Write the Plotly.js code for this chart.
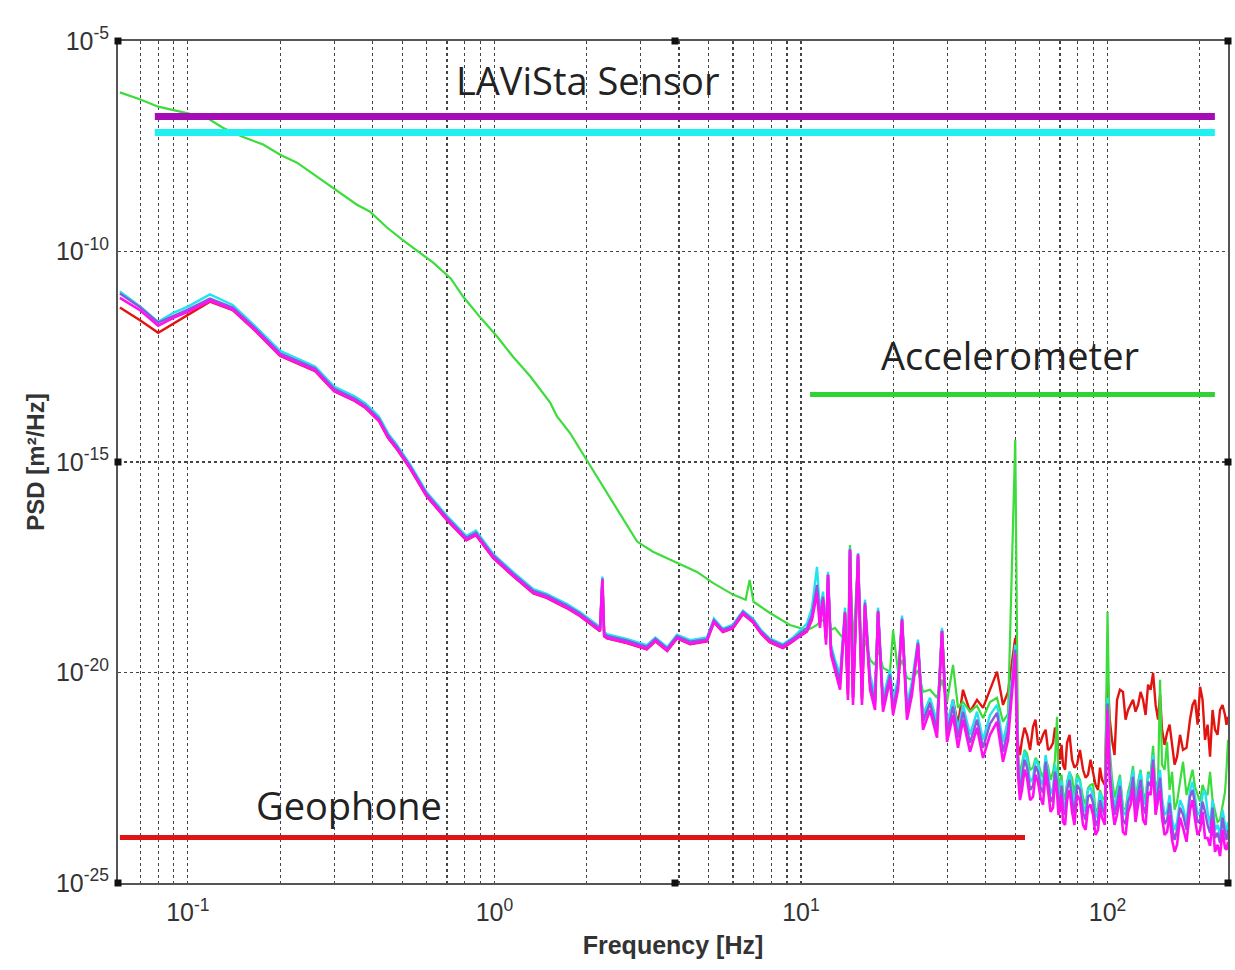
<!DOCTYPE html>
<html>
<head>
<meta charset="utf-8">
<script src="https://cdn.plot.ly/plotly-3.0.1.min.js"></script>
<style>html,body{margin:0;padding:0;background:#fff;}#chart{width:1235px;height:970px;}</style>
</head>
<body>
<div id="chart"></div>
<script>
// ---- Data (frequencies in Hz, PSD stored as log10 of m^2/Hz) ----
const lowFreq = [0.06,0.07,0.08,0.09,0.1,0.118,0.14,0.165,0.2,0.23,0.26,0.3,0.35,0.38,0.42,0.45,0.48,0.53,0.6,0.7,0.81,0.87,0.99,1.15,1.34,1.48,1.72,1.9,2.21,2.25,2.28,2.33,2.7,3.14,3.35,3.66,3.94,4.35,4.93,5.2,5.56,6.0,6.47,6.97,7.4,7.9,8.73,9.42];
const midFreq = [10.46,10.86,11.28,11.53,11.80,12.07,12.25,12.53,12.91,13.41,13.92,14.23,14.45,14.78,15.35,15.81,16.17,16.80,17.44,17.84,18.52,19.52,19.97,20.73,21.36,22.17,23.02,24.08,25.00,26.36,27.78,28.84,29.95,31.33,32.53,33.77,35.60,37.52,39.25,41.36,43.60,45.61,47.36,50];
const topFreq = [51.05,51.8,52.6,53.6,54.63,55.9,57.14,58.2,59.33,60.5,61.6,62.8,63.96,65.2,66.41,67.4,68.44,69.2,69.98,70.8,71.58,72.7,73.78,75.2,76.61,78.0,79.53,81.3,83.2,84.8,86.38,88.0,89.69,91.4,93.11,94.5,95.96,98.0,100,101.7,103.4,105.4,107.4,109.8,112.3,114.5,116.7,118.9,121.1,123.4,125.8,128.2,130.6,133.1,135.6,138.2,140.8,143.5,146.2,148.4,150.6,153.5,156.4,159.4,162.4,165.5,168.6,172.4,176.3,181.0,185.8,189.4,193.0,196.7,200.4,204.2,208.0,212.0,216.0,220.1,224.2,228.5,232.8,237.2,241.7,244.4,247.2];

const magentaLow = [-11.10,-11.40,-11.76,-11.57,-11.43,-11.17,-11.38,-11.86,-12.47,-12.66,-12.83,-13.31,-13.54,-13.71,-14.02,-14.42,-14.68,-15.14,-15.80,-16.37,-16.85,-16.73,-17.27,-17.70,-18.11,-18.22,-18.46,-18.65,-19.01,-17.80,-19.13,-19.18,-19.29,-19.44,-19.25,-19.48,-19.18,-19.32,-19.25,-18.80,-19.03,-18.94,-18.60,-18.80,-19.06,-19.27,-19.41,-19.25];
const purpleLow = [-11.00,-11.33,-11.69,-11.52,-11.38,-11.12,-11.33,-11.81,-12.42,-12.61,-12.78,-13.26,-13.49,-13.66,-13.97,-14.37,-14.63,-15.09,-15.75,-16.32,-16.80,-16.68,-17.22,-17.65,-18.06,-18.17,-18.41,-18.60,-18.96,-17.76,-19.08,-19.13,-19.24,-19.39,-19.20,-19.43,-19.14,-19.27,-19.21,-18.76,-18.99,-18.90,-18.56,-18.76,-19.02,-19.22,-19.36,-19.20];
const cyanLow = [-10.95,-11.31,-11.67,-11.45,-11.31,-11.02,-11.27,-11.76,-12.36,-12.56,-12.73,-13.21,-13.44,-13.61,-13.92,-14.32,-14.59,-15.05,-15.71,-16.28,-16.76,-16.63,-17.18,-17.61,-18.02,-18.13,-18.37,-18.56,-18.92,-17.72,-19.04,-19.09,-19.20,-19.35,-19.17,-19.40,-19.10,-19.23,-19.17,-18.72,-18.96,-18.86,-18.53,-18.72,-18.99,-19.19,-19.33,-19.17];
const redLow = [-11.33,-11.64,-11.93,-11.71,-11.50,-11.19,-11.39,-11.87,-12.48,-12.67,-12.84,-13.32,-13.55,-13.72,-14.03,-14.43,-14.69,-15.15,-15.81,-16.38,-16.86,-16.74,-17.28,-17.71,-18.12,-18.23,-18.47,-18.66,-19.02,-17.85,-19.14,-19.19,-19.30,-19.45,-19.26,-19.49,-19.19,-19.33,-19.26,-18.81,-19.04,-18.95,-18.61,-18.81,-19.07,-19.28,-19.42,-19.26];

const magentaMid = [-19.03,-18.75,-18.11,-18.94,-18.27,-19.34,-17.68,-19.58,-19.94,-20.41,-18.58,-20.65,-17.08,-20.77,-17.20,-20.77,-18.39,-20.41,-20.89,-18.56,-20.93,-20.17,-21.01,-20.41,-18.75,-21.12,-20.53,-19.34,-21.36,-20.89,-21.55,-19.03,-21.65,-21.01,-21.79,-21.12,-21.88,-21.31,-22.03,-21.48,-21.17,-22.12,-21.60,-19.58];
const cyanMid = [-18.84,-18.46,-17.49,-18.56,-18.08,-19.03,-17.61,-19.34,-19.70,-20.05,-18.46,-20.36,-17.04,-20.41,-17.16,-20.46,-18.27,-20.05,-20.53,-18.46,-20.60,-19.94,-20.65,-20.13,-18.65,-20.77,-20.22,-19.22,-21.01,-20.60,-21.17,-18.94,-21.24,-20.65,-21.36,-20.77,-21.48,-20.93,-21.60,-21.01,-20.77,-21.65,-21.12,-19.34];
const purpleMid = [-18.94,-18.63,-17.92,-18.70,-18.20,-19.18,-17.68,-19.46,-19.82,-20.22,-18.56,-20.48,-17.08,-20.58,-17.20,-20.60,-18.34,-20.22,-20.70,-18.53,-20.77,-20.05,-20.84,-20.27,-18.72,-20.93,-20.36,-19.29,-21.17,-20.74,-21.36,-19.01,-21.43,-20.81,-21.55,-20.93,-21.67,-21.12,-21.79,-21.22,-20.96,-21.88,-21.36,-19.46];
const redMid = [-18.99,-18.70,-18.03,-18.75,-18.27,-19.22,-17.75,-19.46,-19.82,-20.27,-18.63,-20.53,-17.13,-20.60,-17.25,-20.65,-18.41,-20.27,-20.72,-18.56,-20.77,-20.08,-20.84,-20.29,-18.79,-20.93,-20.36,-19.34,-21.12,-20.70,-21.24,-18.99,-21.31,-20.65,-21.24,-20.41,-20.93,-20.65,-20.84,-20.41,-19.98,-20.77,-20.46,-19.18];

const magentaTop = [-22.43,-23.03,-22.79,-22.31,-22.50,-23.03,-22.95,-22.43,-22.60,-22.98,-23.14,-22.36,-22.79,-23.31,-23.21,-22.55,-22.84,-23.38,-23.26,-22.91,-23.55,-23.62,-23.03,-22.79,-23.31,-23.62,-22.91,-23.03,-23.62,-23.74,-23.21,-23.14,-23.38,-23.86,-23.74,-23.21,-23.45,-23.62,-20.89,-22.55,-23.14,-23.62,-23.38,-22.91,-23.79,-23.86,-23.31,-23.14,-22.74,-23.55,-23.14,-22.79,-23.50,-23.62,-22.84,-22.91,-22.26,-23.38,-23.03,-22.79,-23.45,-23.86,-23.79,-23.38,-23.98,-24.26,-24.09,-23.45,-23.69,-24.02,-23.26,-23.03,-23.50,-23.86,-23.74,-23.31,-23.93,-23.93,-24.12,-23.50,-24.26,-24.09,-24.36,-23.74,-24.17,-24.21,-24.02];
const cyanTop = [-22.03,-22.67,-22.31,-21.88,-22.07,-22.60,-22.50,-22.07,-22.19,-22.55,-22.67,-21.96,-22.36,-22.88,-22.74,-22.19,-22.43,-22.98,-22.84,-22.55,-23.07,-23.21,-22.65,-22.36,-22.84,-23.14,-22.50,-22.60,-23.14,-23.31,-22.79,-22.74,-22.91,-23.45,-23.31,-22.84,-23.03,-23.26,-20.60,-22.19,-22.74,-23.21,-22.93,-22.50,-23.31,-23.38,-22.91,-22.74,-22.31,-23.14,-22.69,-22.36,-22.98,-23.14,-22.43,-22.50,-21.96,-22.98,-22.60,-22.31,-22.98,-23.38,-23.31,-22.91,-23.50,-23.74,-23.55,-23.03,-23.21,-23.55,-22.79,-22.60,-22.95,-23.38,-23.31,-22.91,-22.79,-23.31,-23.62,-23.03,-23.74,-23.62,-23.86,-23.26,-23.62,-23.79,-23.55];
const purpleTop = [-22.19,-22.84,-22.50,-22.07,-22.26,-22.79,-22.69,-22.22,-22.36,-22.74,-22.86,-22.12,-22.55,-23.07,-22.95,-22.36,-22.60,-23.17,-23.03,-22.69,-23.26,-23.38,-22.79,-22.55,-23.03,-23.36,-22.67,-22.79,-23.33,-23.50,-22.95,-22.91,-23.10,-23.64,-23.50,-23.03,-23.21,-23.41,-20.74,-22.36,-22.91,-23.38,-23.12,-22.69,-23.50,-23.60,-23.07,-22.91,-22.48,-23.31,-22.86,-22.55,-23.17,-23.36,-22.60,-22.69,-22.07,-23.17,-22.79,-22.50,-23.17,-23.60,-23.50,-23.10,-23.69,-23.98,-23.74,-23.21,-23.38,-23.74,-22.95,-22.79,-23.14,-23.57,-23.50,-23.07,-23.31,-23.62,-23.81,-23.21,-23.93,-23.81,-24.05,-23.45,-23.83,-23.98,-23.74];
const redTop = [-21.72,-21.96,-21.60,-21.31,-21.48,-21.84,-21.29,-21.12,-21.72,-21.65,-21.48,-21.36,-21.84,-21.79,-21.67,-21.31,-21.48,-21.96,-22.07,-21.72,-22.19,-22.31,-21.67,-21.48,-22.07,-22.26,-22.19,-21.84,-22.31,-22.50,-22.43,-22.07,-22.38,-22.67,-22.79,-22.26,-22.55,-22.67,-20.10,-21.12,-21.60,-21.96,-20.65,-20.41,-20.46,-21.12,-20.89,-20.77,-20.65,-20.93,-20.77,-20.46,-20.65,-21.01,-20.29,-20.41,-20.01,-20.77,-21.12,-20.53,-21.36,-21.72,-21.43,-21.24,-21.72,-22.19,-22.00,-21.48,-21.84,-21.79,-21.12,-20.77,-20.65,-21.24,-20.34,-20.65,-21.60,-21.24,-22.00,-20.89,-21.36,-21.48,-20.89,-20.77,-21.01,-21.24,-21.05];

const greenLowFreq = [0.06,0.07,0.08,0.094,0.115,0.13,0.15,0.176,0.2,0.227,0.264,0.297,0.356,0.392,0.446,0.5,0.56,0.63,0.72,0.79,0.9,1.02,1.15,1.31,1.52,1.6,1.76,2.0,2.33,2.63,2.92,3.29,3.94,4.58,5.16,6.0,6.6,6.8,7.0,7.9,9.2];
const greenLow = [-6.22,-6.39,-6.56,-6.68,-6.82,-7.06,-7.27,-7.46,-7.70,-7.89,-8.22,-8.49,-8.89,-9.05,-9.43,-9.72,-9.98,-10.26,-10.64,-11.07,-11.57,-12.02,-12.50,-12.97,-13.59,-13.92,-14.30,-14.95,-15.73,-16.37,-16.89,-17.13,-17.39,-17.61,-17.87,-18.15,-18.27,-17.80,-18.32,-18.58,-18.87];
const greenMid = [-18.99,-18.94,-18.87,-18.79,-18.75,-18.87,-18.51,-18.99,-18.94,-19.10,-19.22,-19.34,-16.97,-19.46,-17.32,-19.70,-19.22,-19.70,-19.82,-19.46,-19.89,-19.98,-18.99,-19.98,-19.70,-20.13,-20.17,-19.94,-20.46,-20.41,-20.60,-20.17,-20.70,-19.82,-20.84,-20.70,-20.93,-20.79,-21.08,-20.70,-20.60,-21.17,-20.98,-14.47];
const greenTop = [-21.88,-22.43,-22.12,-21.84,-21.93,-22.31,-22.26,-22.03,-22.12,-22.36,-22.50,-22.07,-22.22,-22.55,-22.36,-22.07,-21.05,-22.79,-22.60,-22.43,-22.84,-23.03,-22.60,-22.36,-22.50,-22.91,-22.41,-22.55,-22.98,-23.14,-22.74,-22.67,-22.65,-23.31,-23.21,-22.79,-22.95,-23.03,-18.56,-21.84,-22.50,-22.98,-22.74,-22.43,-23.21,-23.26,-22.84,-22.60,-22.22,-23.03,-22.60,-22.31,-22.84,-23.03,-22.36,-22.43,-21.74,-22.79,-22.55,-20.17,-22.19,-22.31,-21.65,-22.79,-22.36,-23.26,-23.07,-22.55,-22.12,-22.91,-22.60,-22.31,-22.72,-22.91,-23.07,-22.67,-22.84,-22.91,-22.36,-23.03,-23.31,-23.55,-23.50,-23.14,-22.84,-22.31,-21.60];

// Sensor noise levels (horizontal reference lines)
const lavistaFreq = [0.078, 224];
const lavistaMagentaPSD = [1.6e-7, 1.6e-7];
const lavistaCyanPSD = [6.7e-8, 6.7e-8];
const accelFreq = [10.7, 224];
const accelPSD = [4e-14, 4e-14];
const geoFreq = [0.06, 53.8];
const geoPSD = [1.2e-24, 1.2e-24];

const xTickVals = [0.1, 1, 10, 100];
const xTickText = ['10<sup>-1</sup>','10<sup>0</sup>','10<sup>1</sup>','10<sup>2</sup>'];
const yTickVals = [1e-25, 1e-20, 1e-15, 1e-10, 1e-5];
const yTickText = ['10<sup>-25</sup>','10<sup>-20</sup>','10<sup>-15</sup>','10<sup>-10</sup>','10<sup>-5</sup>'];
const xMinorVals = [0.07,0.08,0.09,0.2,0.3,0.4,0.5,0.6,0.7,0.8,0.9,2,3,4,5,6,7,8,9,20,30,40,50,60,70,80,90,200];

// ---- Build traces ----
const pw = a => a.map(v => Math.pow(10, v));
const allFreq = lowFreq.concat(midFreq, topFreq);
const greenFreq = greenLowFreq.concat(midFreq, topFreq);
function line(x, y, color, width, name) {
  return {x: x, y: y, type: 'scatter', mode: 'lines', name: name,
          line: {color: color, width: width}, hoverinfo: 'skip'};
}
const traces = [
  line(allFreq, pw(redLow.concat(redMid, redTop)), '#e3140f', 2.4, 'red'),
  line(greenFreq, pw(greenLow.concat(greenMid, greenTop)), '#3cdc3c', 2.2, 'green'),
  line(allFreq, pw(cyanLow.concat(cyanMid, cyanTop)), '#22e4ee', 2.4, 'cyan'),
  line(allFreq, pw(purpleLow.concat(purpleMid, purpleTop)), '#8a58de', 2.4, 'purple'),
  line(allFreq, pw(magentaLow.concat(magentaMid, magentaTop)), '#ff10f0', 2.6, 'magenta'),
  line(lavistaFreq, lavistaMagentaPSD, '#a40cb6', 7, 'LAViSta 1'),
  line(lavistaFreq, lavistaCyanPSD, '#1ff0f2', 7, 'LAViSta 2'),
  line(accelFreq, accelPSD, '#2fd334', 5, 'Accelerometer'),
  line(geoFreq, geoPSD, '#e01414', 5, 'Geophone')
];

const tickFont = {family: 'Liberation Sans, Arial, sans-serif', size: 25, color: '#333'};
const labelFont = {family: 'Open Sans, sans-serif', size: 38, color: '#222'};

// small square tick markers on the frame (paper coordinates)
const markPos = [[0,0],[0,1],[1,0],[1,1],[0.5018,0],[0.5018,1],[0,0.5],[1,0.5]];
const shapes = markPos.map(p => ({
  type: 'rect', xref: 'paper', yref: 'paper', xsizemode: 'pixel', ysizemode: 'pixel',
  xanchor: p[0], yanchor: p[1], x0: -3.5, x1: 3.5, y0: -3.5, y1: 3.5,
  fillcolor: '#111', line: {width: 0}
}));

const gridCol = '#444';
const layout = {
  width: 1235, height: 970,
  margin: {l: 118, r: 7, t: 41, b: 87},
  paper_bgcolor: '#fff', plot_bgcolor: '#fff',
  showlegend: false,
  xaxis: {
    type: 'log', range: [-1.228, 2.393],
    tickmode: 'array', tickvals: xTickVals, ticktext: xTickText,
    tickfont: tickFont, ticks: '', ticklabelstandoff: 6,
    showgrid: true, gridcolor: gridCol, griddash: 'dot', gridwidth: 1.2,
    minor: {tickmode: 'array', tickvals: xMinorVals, showgrid: true, gridcolor: gridCol, griddash: 'dot', gridwidth: 1.2, ticks: ''},
    showline: true, linecolor: '#555', linewidth: 2, mirror: true, zeroline: false,
    title: {text: '<b>Frequency [Hz]</b>', font: {family: 'Liberation Sans, Arial, sans-serif', size: 25, color: '#333'}, standoff: 11}
  },
  yaxis: {
    type: 'log', range: [-25, -5],
    tickmode: 'array', tickvals: yTickVals, ticktext: yTickText,
    tickfont: tickFont, ticks: '', ticklabelstandoff: 2,
    showgrid: true, gridcolor: gridCol, griddash: 'dot', gridwidth: 1.2,
    showline: true, linecolor: '#555', linewidth: 2, mirror: true, zeroline: false,
    title: {text: '<b>PSD [m²/Hz]</b>', font: {family: 'Liberation Sans, Arial, sans-serif', size: 24, color: '#333'}, standoff: 4}
  },
  shapes: shapes,
  annotations: [
    {text: 'LAViSta Sensor', xref: 'paper', yref: 'paper', x: 0.4234, y: 0.9537, showarrow: false, font: labelFont, xanchor: 'center', yanchor: 'middle'},
    {text: 'Accelerometer', xref: 'paper', yref: 'paper', x: 0.8036, y: 0.627, showarrow: false, font: labelFont, xanchor: 'center', yanchor: 'middle'},
    {text: 'Geophone', xref: 'paper', yref: 'paper', x: 0.208, y: 0.0926, showarrow: false, font: labelFont, xanchor: 'center', yanchor: 'middle'}
  ]
};

Plotly.newPlot('chart', traces, layout, {staticPlot: true, displayModeBar: false});
</script>
</body>
</html>
